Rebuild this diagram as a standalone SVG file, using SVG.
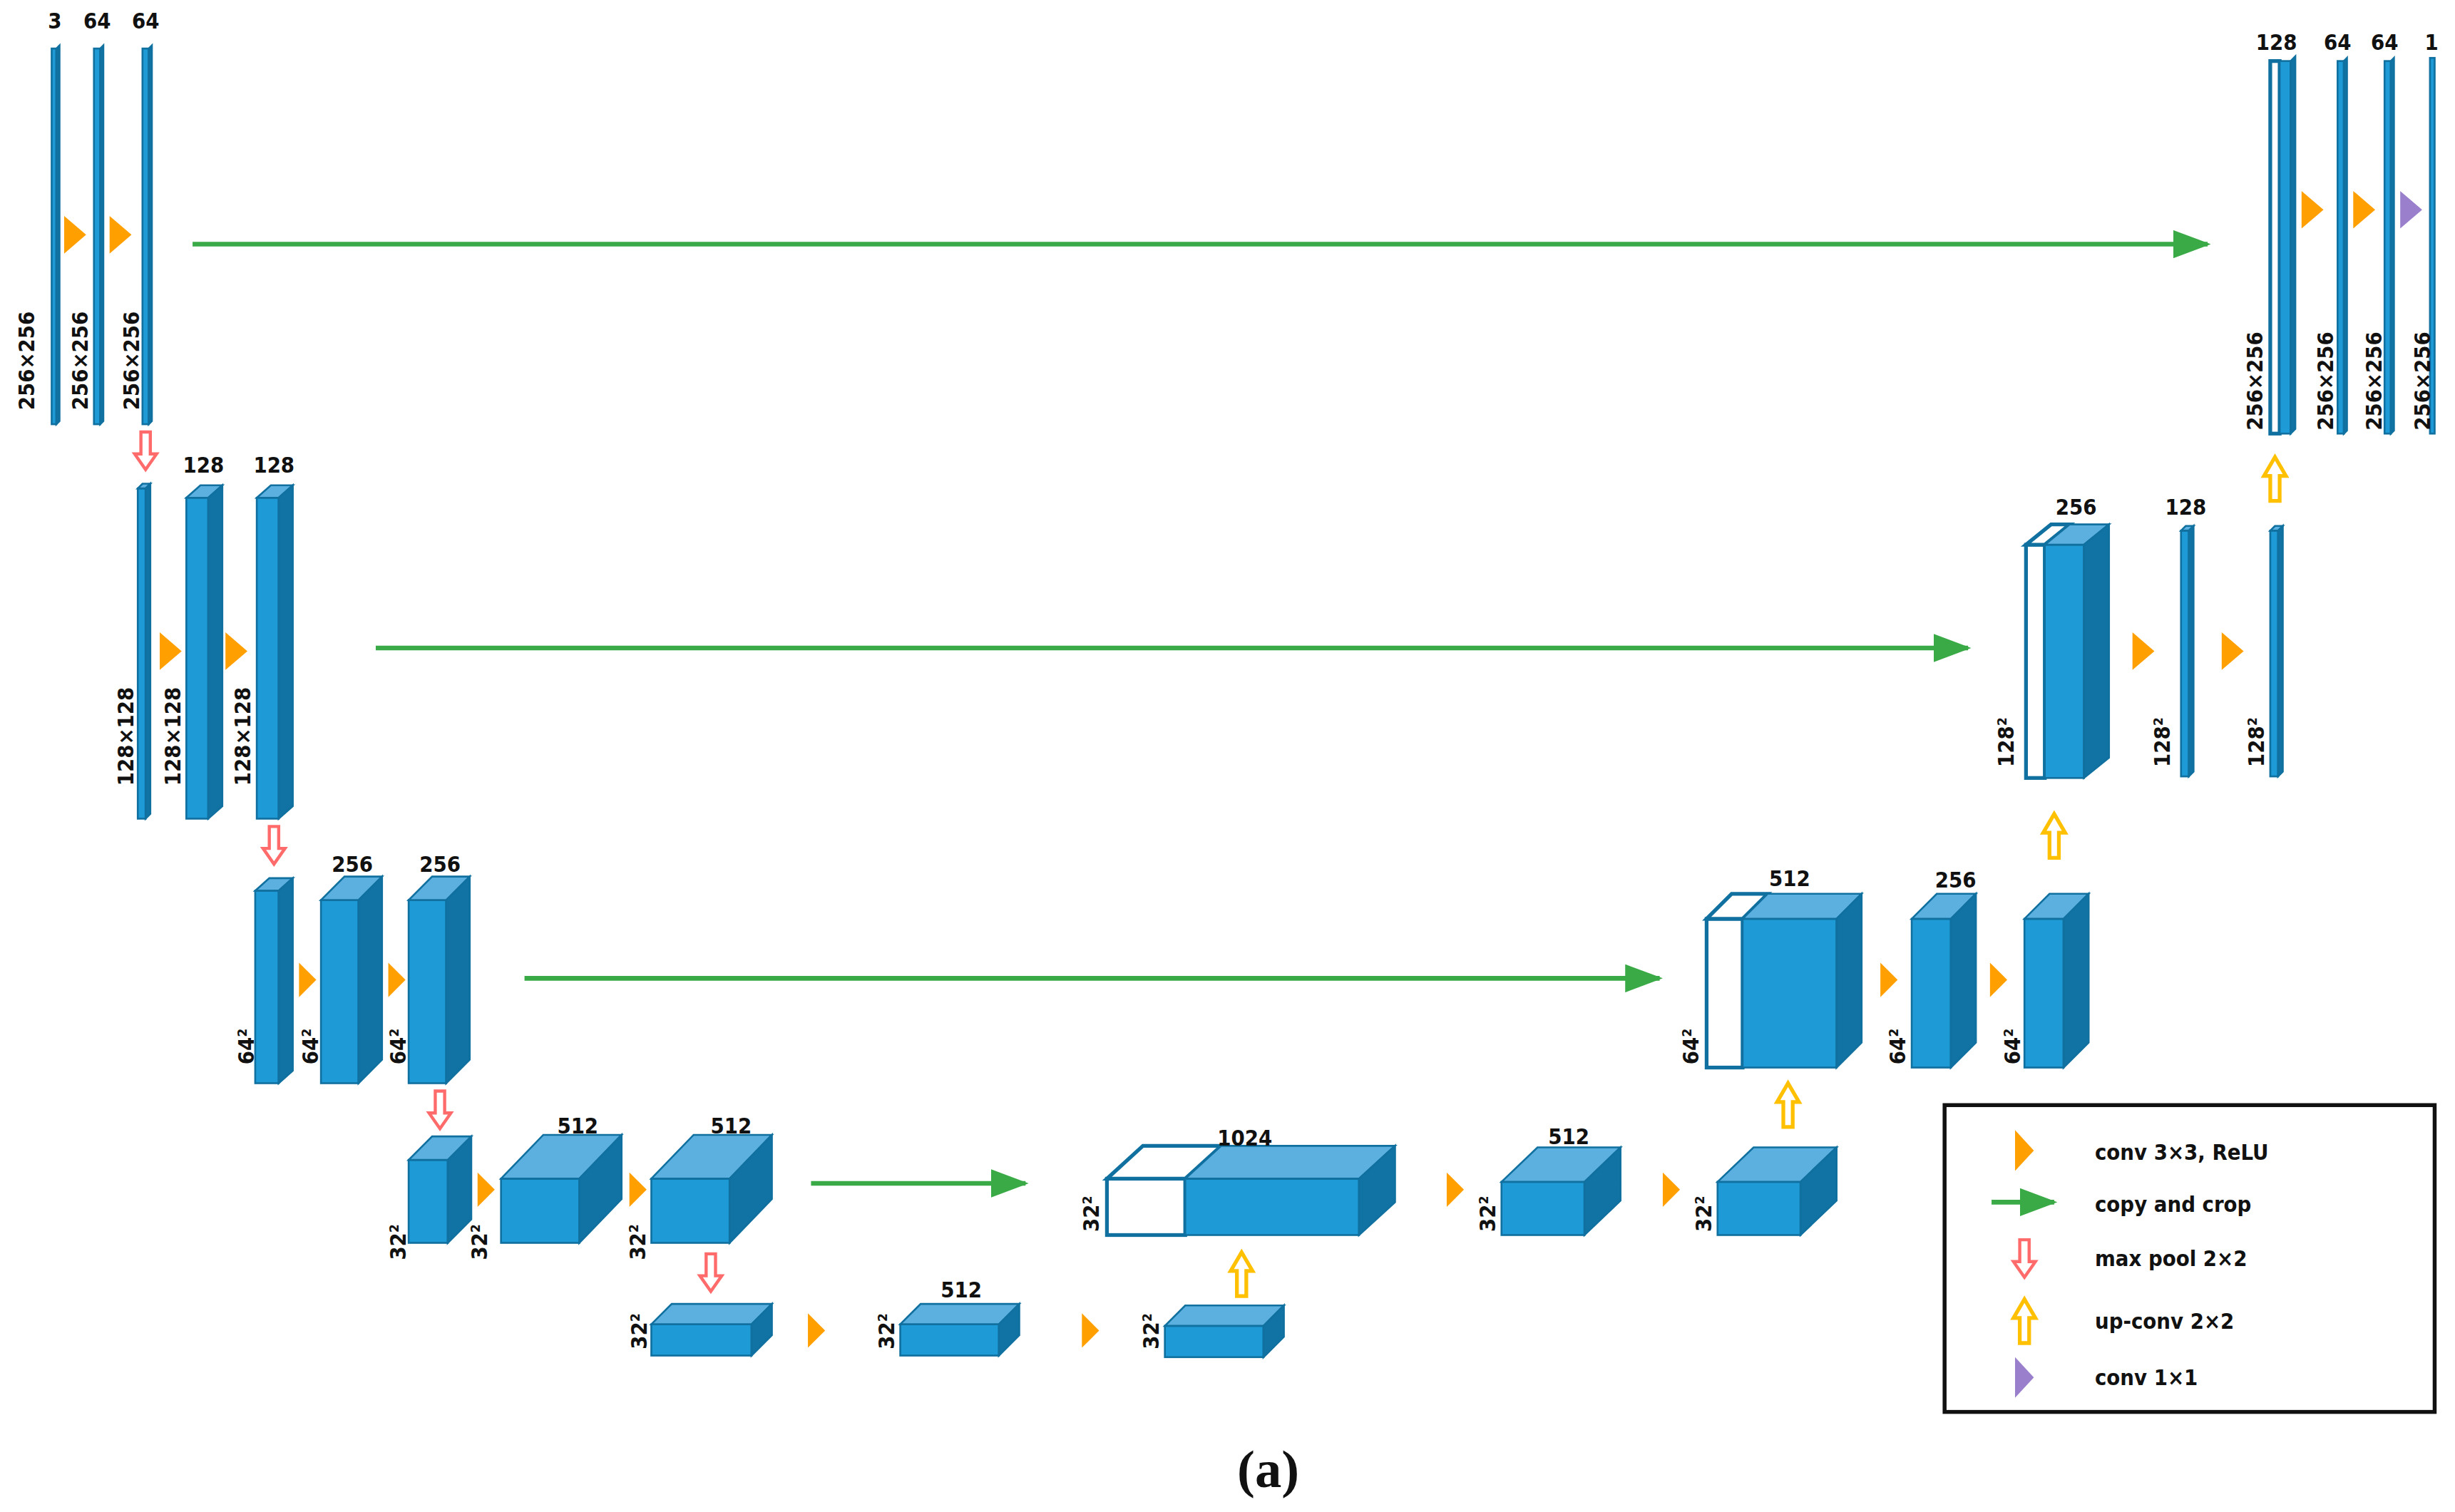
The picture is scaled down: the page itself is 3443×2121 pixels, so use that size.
<svg xmlns="http://www.w3.org/2000/svg" width="3443" height="2121" viewBox="0 0 3443 2121">
<style>
.f{fill:#1e9bd7;stroke:#10709f;stroke-width:1.2}
.t{fill:#5cb0e0;stroke:#10709f;stroke-width:1.2}
.s{fill:#1173a4;stroke:#10709f;stroke-width:1.2}
.w{fill:#fff;stroke:#10709f;stroke-width:2.4}
.lb{font-family:"DejaVu Sans Condensed","Liberation Sans",sans-serif;font-weight:bold;font-size:14px;fill:#111;text-anchor:middle}
.vl{font-family:"DejaVu Sans Condensed","Liberation Sans",sans-serif;font-weight:bold;font-size:14px;fill:#111}
.lg{font-family:"DejaVu Sans Condensed","Liberation Sans",sans-serif;font-weight:bold;font-size:14px;fill:#111}
.or{fill:#ff9f00}.pu{fill:#9a80cc}
.cp{stroke:#3aaa47;stroke-width:3;fill:none}
.dn{fill:#fff;stroke:#ff6b6b;stroke-width:2}
.up{fill:#fff;stroke:#ffc000;stroke-width:2.4}
</style>
<defs>
<marker id="ah" markerUnits="userSpaceOnUse" markerWidth="24" markerHeight="18" refX="22" refY="9" orient="auto"><path d="M0,0 L24,9 L0,18Z" fill="#3aaa47"/></marker>
<path id="tri" d="M0,-12 L14,0 L0,12Z"/>
<path id="tri2" d="M0,-11 L11,0 L0,11Z"/>
<path id="tri3" d="M0,-13 L12,0 L0,13Z"/>
<path id="darr" d="M-3,0 H3 V14 H7 L0,24 L-7,14 H-3Z"/>
<path id="uarr" d="M-3,28 H3 V12 H7 L0,0 L-7,12 H-3Z"/>
</defs>
<rect width="3443" height="2121" fill="#fff"/>
<g transform="scale(2.1958)">
<g id="connectors">
<line class="cp" x1="123" y1="156" x2="1410" y2="156" marker-end="url(#ah)"/>
<line class="cp" x1="240" y1="414" x2="1257" y2="414" marker-end="url(#ah)"/>
<line class="cp" x1="335" y1="625" x2="1060" y2="625" marker-end="url(#ah)"/>
<line class="cp" x1="518" y1="756" x2="655" y2="756" marker-end="url(#ah)"/>
<use href="#tri" class="or" x="41" y="150"/><use href="#tri" class="or" x="70" y="150"/>
<use href="#tri" class="or" x="102" y="416"/><use href="#tri" class="or" x="144" y="416"/>
<use href="#tri2" class="or" x="191" y="626"/><use href="#tri2" class="or" x="248" y="626"/>
<use href="#tri2" class="or" x="305" y="760"/><use href="#tri2" class="or" x="402" y="760"/>
<use href="#tri2" class="or" x="516" y="850"/><use href="#tri2" class="or" x="691" y="850"/>
<use href="#tri2" class="or" x="924" y="760"/><use href="#tri2" class="or" x="1062" y="760"/>
<use href="#tri2" class="or" x="1201" y="626"/><use href="#tri2" class="or" x="1271" y="626"/>
<use href="#tri" class="or" x="1362" y="416"/><use href="#tri" class="or" x="1419" y="416"/>
<use href="#tri" class="or" x="1470" y="134"/><use href="#tri" class="or" x="1503" y="134"/><use href="#tri" class="pu" x="1533" y="134"/>
<use href="#darr" class="dn" x="93" y="276"/><use href="#darr" class="dn" x="175" y="528"/>
<use href="#darr" class="dn" x="281" y="697"/><use href="#darr" class="dn" x="454" y="801"/>
<use href="#uarr" class="up" x="793" y="800"/><use href="#uarr" class="up" x="1142" y="692"/>
<use href="#uarr" class="up" x="1312" y="520"/><use href="#uarr" class="up" x="1453" y="292"/>
</g>
<g id="enc1">
<rect class="f" x="33" y="31" width="3" height="240"/><polygon class="s" points="36,31 38,29 38,269 36,271"/>
<rect class="f" x="60" y="31" width="4" height="240"/><polygon class="s" points="64,31 66,29 66,269 64,271"/>
<rect class="f" x="91" y="31" width="4" height="240"/><polygon class="s" points="95,31 97,29 97,269 95,271"/>
<text class="lb" x="35" y="18">3</text><text class="lb" x="62" y="18">64</text><text class="lb" x="93" y="18">64</text>
<text class="vl" transform="translate(22,262) rotate(-90)">256×256</text>
<text class="vl" transform="translate(56,262) rotate(-90)">256×256</text>
<text class="vl" transform="translate(89,262) rotate(-90)">256×256</text>
</g>
<g id="enc2">
<rect class="f" x="88" y="312" width="5" height="211"/><polygon class="t" points="88,312 91,309 96,309 93,312"/><polygon class="s" points="93,312 96,309 96,520 93,523"/>
<rect class="f" x="119" y="318" width="14" height="205"/><polygon class="t" points="119,318 128,310 142,310 133,318"/><polygon class="s" points="133,318 142,310 142,515 133,523"/>
<rect class="f" x="164" y="318" width="14" height="205"/><polygon class="t" points="164,318 173,310 187,310 178,318"/><polygon class="s" points="178,318 187,310 187,515 178,523"/>
<text class="lb" x="130" y="302">128</text><text class="lb" x="175" y="302">128</text>
<text class="vl" transform="translate(85,502) rotate(-90)">128×128</text>
<text class="vl" transform="translate(115,502) rotate(-90)">128×128</text>
<text class="vl" transform="translate(160,502) rotate(-90)">128×128</text>
</g>
<g id="enc3">
<rect class="f" x="163" y="569" width="15" height="123"/><polygon class="t" points="163,569 172,561 187,561 178,569"/><polygon class="s" points="178,569 187,561 187,684 178,692"/>
<rect class="f" x="205" y="575" width="24" height="117"/><polygon class="t" points="205,575 220,560 244,560 229,575"/><polygon class="s" points="229,575 244,560 244,677 229,692"/>
<rect class="f" x="261" y="575" width="24" height="117"/><polygon class="t" points="261,575 276,560 300,560 285,575"/><polygon class="s" points="285,575 300,560 300,677 285,692"/>
<text class="lb" x="225" y="557">256</text><text class="lb" x="281" y="557">256</text>
<text class="vl" transform="translate(162,680) rotate(-90)">64²</text>
<text class="vl" transform="translate(203,680) rotate(-90)">64²</text>
<text class="vl" transform="translate(259,680) rotate(-90)">64²</text>
</g>
<g id="enc4">
<rect class="f" x="261" y="741" width="25" height="53"/><polygon class="t" points="261,741 276,726 301,726 286,741"/><polygon class="s" points="286,741 301,726 301,779 286,794"/>
<rect class="f" x="320" y="753" width="50" height="41"/><polygon class="t" points="320,753 347,725 397,725 370,753"/><polygon class="s" points="370,753 397,725 397,766 370,794"/>
<rect class="f" x="416" y="753" width="50" height="41"/><polygon class="t" points="416,753 443,725 493,725 466,753"/><polygon class="s" points="466,753 493,725 493,766 466,794"/>
<text class="lb" x="369" y="724">512</text><text class="lb" x="467" y="724">512</text>
<text class="vl" transform="translate(259,805) rotate(-90)">32²</text>
<text class="vl" transform="translate(311,805) rotate(-90)">32²</text>
<text class="vl" transform="translate(412,805) rotate(-90)">32²</text>
</g>
<g id="bottleneck">
<rect class="f" x="416" y="846" width="64" height="20"/><polygon class="t" points="416,846 429,833 493,833 480,846"/><polygon class="s" points="480,846 493,833 493,853 480,866"/>
<rect class="f" x="575" y="846" width="63" height="20"/><polygon class="t" points="575,846 588,833 651,833 638,846"/><polygon class="s" points="638,846 651,833 651,853 638,866"/>
<rect class="f" x="744" y="847" width="63" height="20"/><polygon class="t" points="744,847 757,834 820,834 807,847"/><polygon class="s" points="807,847 820,834 820,854 807,867"/>
<text class="lb" x="614" y="829">512</text>
<text class="vl" transform="translate(413,862) rotate(-90)">32²</text>
<text class="vl" transform="translate(571,862) rotate(-90)">32²</text>
<text class="vl" transform="translate(740,862) rotate(-90)">32²</text>
</g>
<g id="dec4">
<rect class="w" x="707" y="753" width="50" height="36"/><polygon class="w" points="707,753 730,732 780,732 757,753"/>
<rect class="f" x="757" y="753" width="111" height="36"/><polygon class="t" points="757,753 780,732 891,732 868,753"/><polygon class="s" points="868,753 891,732 891,768 868,789"/>
<rect class="f" x="959" y="755" width="53" height="34"/><polygon class="t" points="959,755 982,733 1035,733 1012,755"/><polygon class="s" points="1012,755 1035,733 1035,767 1012,789"/>
<rect class="f" x="1097" y="755" width="53" height="34"/><polygon class="t" points="1097,755 1120,733 1173,733 1150,755"/><polygon class="s" points="1150,755 1173,733 1173,767 1150,789"/>
<text class="lb" x="795" y="732">1024</text><text class="lb" x="1002" y="731">512</text>
<text class="vl" transform="translate(702,787) rotate(-90)">32²</text>
<text class="vl" transform="translate(955,787) rotate(-90)">32²</text>
<text class="vl" transform="translate(1093,787) rotate(-90)">32²</text>
</g>
<g id="dec3">
<rect class="w" x="1090" y="587" width="23" height="95"/><polygon class="w" points="1090,587 1106,571 1129,571 1113,587"/>
<rect class="f" x="1113" y="587" width="60" height="95"/><polygon class="t" points="1113,587 1129,571 1189,571 1173,587"/><polygon class="s" points="1173,587 1189,571 1189,666 1173,682"/>
<rect class="f" x="1221" y="587" width="25" height="95"/><polygon class="t" points="1221,587 1237,571 1262,571 1246,587"/><polygon class="s" points="1246,587 1262,571 1262,666 1246,682"/>
<rect class="f" x="1293" y="587" width="25" height="95"/><polygon class="t" points="1293,587 1309,571 1334,571 1318,587"/><polygon class="s" points="1318,587 1334,571 1334,666 1318,682"/>
<text class="lb" x="1143" y="566">512</text><text class="lb" x="1249" y="567">256</text>
<text class="vl" transform="translate(1085,680) rotate(-90)">64²</text>
<text class="vl" transform="translate(1217,680) rotate(-90)">64²</text>
<text class="vl" transform="translate(1290,680) rotate(-90)">64²</text>
</g>
<g id="dec2">
<rect class="w" x="1294" y="348" width="12" height="149"/><polygon class="w" points="1294,348 1310,335 1322,335 1306,348"/>
<rect class="f" x="1306" y="348" width="25" height="149"/><polygon class="t" points="1306,348 1322,335 1347,335 1331,348"/><polygon class="s" points="1331,348 1347,335 1347,484 1331,497"/>
<rect class="f" x="1393" y="339" width="5" height="157"/><polygon class="t" points="1393,339 1396,336 1401,336 1398,339"/><polygon class="s" points="1398,339 1401,336 1401,493 1398,496"/>
<rect class="f" x="1450" y="339" width="5" height="157"/><polygon class="t" points="1450,339 1453,336 1458,336 1455,339"/><polygon class="s" points="1455,339 1458,336 1458,493 1455,496"/>
<text class="lb" x="1326" y="329">256</text><text class="lb" x="1396" y="329">128</text>
<text class="vl" transform="translate(1286,490) rotate(-90)">128²</text>
<text class="vl" transform="translate(1386,490) rotate(-90)">128²</text>
<text class="vl" transform="translate(1446,490) rotate(-90)">128²</text>
</g>
<g id="dec1">
<rect class="w" x="1450" y="39" width="6" height="238"/>
<rect class="f" x="1456" y="39" width="7" height="238"/><polygon class="s" points="1463,39 1466,36 1466,274 1463,277"/>
<rect class="f" x="1493" y="39" width="4" height="238"/><polygon class="s" points="1497,39 1499,37 1499,275 1497,277"/>
<rect class="f" x="1523" y="39" width="4" height="238"/><polygon class="s" points="1527,39 1529,37 1529,275 1527,277"/>
<rect class="f" x="1552" y="37" width="3" height="240"/>
<text class="lb" x="1454" y="32">128</text><text class="lb" x="1493" y="32">64</text><text class="lb" x="1523" y="32">64</text><text class="lb" x="1553" y="32">1</text>
<text class="vl" transform="translate(1445,275) rotate(-90)">256×256</text>
<text class="vl" transform="translate(1490,275) rotate(-90)">256×256</text>
<text class="vl" transform="translate(1521,275) rotate(-90)">256×256</text>
<text class="vl" transform="translate(1552,275) rotate(-90)">256×256</text>
</g>
<g id="legend">
<rect x="1242" y="706" width="313" height="196" fill="#fff" stroke="#111" stroke-width="2.5"/>
<use href="#tri3" class="or" x="1287" y="735"/>
<line class="cp" x1="1272" y1="768" x2="1312" y2="768" marker-end="url(#ah)"/>
<use href="#darr" class="dn" x="1293" y="792"/>
<use href="#uarr" class="up" x="1293" y="830"/>
<use href="#tri3" class="pu" x="1287" y="880"/>
<text class="lg" x="1338" y="741">conv 3×3, ReLU</text>
<text class="lg" x="1338" y="774">copy and crop</text>
<text class="lg" x="1338" y="809">max pool 2×2</text>
<text class="lg" x="1338" y="849">up-conv 2×2</text>
<text class="lg" x="1338" y="885">conv 1×1</text>
</g>
<text x="810" y="950" text-anchor="middle" font-family="Liberation Serif, serif" font-weight="bold" font-size="34" fill="#111">(a)</text>
</g>
</svg>
